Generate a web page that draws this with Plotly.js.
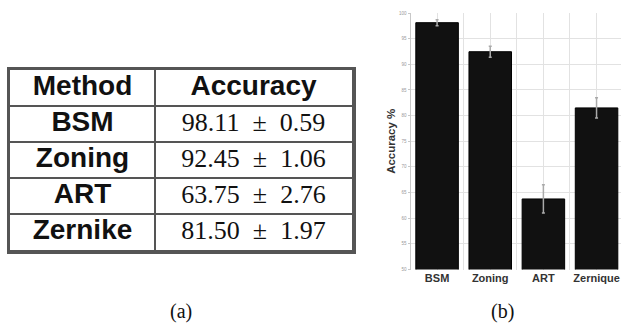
<!DOCTYPE html>
<html>
<head>
<meta charset="utf-8">
<script src="https://cdn.plot.ly/plotly-3.0.1.min.js"></script>
<style>html,body{margin:0;padding:0;background:#fff;}#chart{width:621px;height:325px;}</style>
</head>
<body>
<div id="chart"></div>
<script>
// Table data
const headers = ['Method', 'Accuracy'];
const methods = ['BSM', 'Zoning', 'ART', 'Zernike'];
const accuracy = [98.11, 92.45, 63.75, 81.50];
const stdDev = [0.59, 1.06, 2.76, 1.97];
// Bar chart tick labels (as printed in panel b)
const barLabels = ['BSM', 'Zoning', 'ART', 'Zernique'];
const panelLabels = ['(a)', '(b)'];

const W = 621, H = 325;
const px = v => v / W;
const py = v => 1 - v / H;

const SANS = 'Liberation Sans, Arial, sans-serif';
const SERIF = 'Liberation Serif, Times New Roman, serif';

// ---- table (panel a) drawn on its own axes ----
const colWidths = [145, 197];
const colCenters = [colWidths[0] / 2, colWidths[0] + colWidths[1] / 2];
const nRows = methods.length + 1;
const rowIdx = Array.from({length: nRows}, (_, i) => i);
const rowBounds = rowIdx.slice(1).map(i => i - 0.5);

const col1Text = ['<b>' + headers[0] + '</b>'].concat(methods.map(m => '<b>' + m + '</b>'));
const col2Text = ['<b>' + headers[1] + '</b>'].concat(
  accuracy.map((a, i) => a.toFixed(2) + '  \u00b1  ' + stdDev[i].toFixed(2)));

const col1 = {
  type: 'scatter', mode: 'text',
  x: rowIdx.map(() => colCenters[0]), y: rowIdx,
  text: col1Text, textposition: 'middle center',
  textfont: {family: SANS, size: 28, color: '#111'},
  xaxis: 'x2', yaxis: 'y2', hoverinfo: 'skip', cliponaxis: false
};
const col2 = {
  type: 'scatter', mode: 'text',
  x: rowIdx.map(() => colCenters[1]), y: rowIdx,
  text: col2Text, textposition: 'middle center',
  textfont: {family: [SANS].concat(methods.map(() => SERIF)),
             size: [28].concat(methods.map(() => 26)), color: '#111'},
  xaxis: 'x2', yaxis: 'y2', hoverinfo: 'skip', cliponaxis: false
};

// ---- bar chart (panel b) ----
const xIdx = barLabels.map((_, i) => i);
const xBounds = barLabels.map((_, i) => i - 0.5).concat([barLabels.length - 0.5]);

const barTrace = {
  type: 'bar',
  x: xIdx,
  y: accuracy,
  width: 0.8,
  marker: {color: '#111', line: {color: '#000', width: 1}},
  error_y: {type: 'data', array: stdDev, visible: true, color: '#aaa', thickness: 1.5, width: 1.5},
  xaxis: 'x', yaxis: 'y',
  hoverinfo: 'skip'
};

const layout = {
  width: W, height: H,
  margin: {l: 0, r: 0, t: 0, b: 0},
  paper_bgcolor: '#fff',
  plot_bgcolor: '#fff',
  showlegend: false,
  xaxis: {
    domain: [px(410.5), 1],
    range: [-0.5, 3.46],
    tickmode: 'array',
    tickvals: xIdx,
    ticktext: barLabels.map(s => '<b>' + s + '</b>'),
    tickfont: {family: SANS, size: 11, color: '#333'},
    showgrid: true,
    gridcolor: '#e2e2e2',
    gridwidth: 1,
    minor: {tickmode: 'array', tickvals: xBounds, showgrid: true, gridcolor: '#e2e2e2', gridwidth: 1},
    zeroline: false,
    showline: false,
    ticks: '',
    fixedrange: true
  },
  yaxis: {
    domain: [py(269.5), py(13)],
    range: [50, 100],
    dtick: 5,
    tick0: 50,
    tickfont: {family: SANS, size: 4.5, color: '#999'},
    showgrid: true,
    gridcolor: '#e2e2e2',
    gridwidth: 1,
    zeroline: false,
    showline: true,
    linecolor: '#c8c8c8',
    ticks: 'outside',
    ticklen: 2,
    tickcolor: '#c8c8c8',
    title: {text: '<b>Accuracy %</b>', font: {family: SANS, size: 11.5, color: '#333'}, standoff: 1},
    fixedrange: true
  },
  xaxis2: {
    domain: [px(10), px(352)],
    range: [0, colWidths[0] + colWidths[1]],
    anchor: 'y2',
    showticklabels: false, ticks: '',
    showgrid: false, zeroline: false,
    minor: {tickmode: 'array', tickvals: [colWidths[0]], showgrid: true, gridcolor: '#555', gridwidth: 2.5},
    showline: true, mirror: true, linecolor: '#555', linewidth: 3.5,
    fixedrange: true
  },
  yaxis2: {
    domain: [py(250), py(70)],
    range: [nRows - 0.5, -0.5],
    anchor: 'x2',
    showticklabels: false, ticks: '',
    showgrid: false, zeroline: false,
    minor: {tickmode: 'array', tickvals: rowBounds, showgrid: true, gridcolor: '#555', gridwidth: 2.5},
    showline: true, mirror: true, linecolor: '#555', linewidth: 3.5,
    fixedrange: true
  },
  annotations: [
    {text: panelLabels[0], xref: 'paper', yref: 'paper', x: px(181), y: py(311), showarrow: false,
     font: {family: SERIF, size: 20, color: '#111'}, xanchor: 'center', yanchor: 'middle'},
    {text: panelLabels[1], xref: 'paper', yref: 'paper', x: px(502), y: py(311), showarrow: false,
     font: {family: SERIF, size: 20, color: '#111'}, xanchor: 'center', yanchor: 'middle'}
  ]
};

Plotly.newPlot('chart', [col1, col2, barTrace], layout, {staticPlot: true, displayModeBar: false});
</script>
</body>
</html>
